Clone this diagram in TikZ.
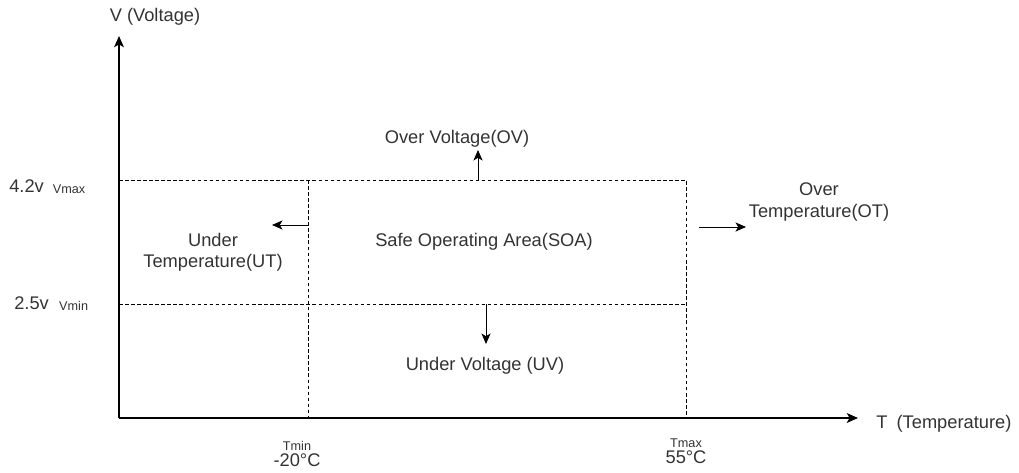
\documentclass[tikz,border=0pt]{standalone}
\usepackage{fontspec}
\setmainfont{Liberation Sans}
\usetikzlibrary{arrows.meta, positioning}

\begin{document}
\begin{tikzpicture}[
    x=0.025cm, y=-0.025cm,
    lbl/.style={text=black!80, font=\fontsize{13}{15}\selectfont, align=center, inner sep=0pt},
    tiny/.style={text=black!80, font=\fontsize{9}{10}\selectfont, inner sep=0pt},
    axis/.style={line width=0.9pt, -{Stealth[length=8pt, width=7pt, inset=2pt]}},
    limit/.style={dash pattern=on 2.5pt off 1.8pt, thin},
    arrow/.style={semithick, -{Stealth[length=7.5pt, width=6.5pt, inset=2pt]}}
]
\useasboundingbox (0,0) rectangle (1019,473);

% Coordinates
\coordinate (origin) at (119,418);
\coordinate (vtop) at (119,36);
\coordinate (tend) at (858,418);
\coordinate (vmaxL) at (119,180);
\coordinate (vmaxR) at (686,180);
\coordinate (vminL) at (119,304);
\coordinate (vminR) at (686,304);
\coordinate (tminT) at (308,180);
\coordinate (tminB) at (308,418);
\coordinate (tmaxB) at (686,418);

% Nodes
\node (vlabel) [lbl] at (155,17) {V (Voltage)};
\node (tlabel) [lbl, anchor=west] at (876,424) {T\enspace(Temperature)};
\node (vmax) [lbl, anchor=west] at (9,186) {4.2v};
\node (vmaxs) [tiny, right=6pt of vmax, yshift=-2pt] {Vmax};
\node (vmin) [lbl, anchor=west] at (14,303) {2.5v};
\node (vmins) [tiny, right=7pt of vmin, yshift=-2pt] {Vmin};
\node (tmin) [tiny] at (297,446) {Tmin};
\node (tminv) [lbl, below=2pt of tmin] {-20°C};
\node (tmax) [tiny] at (686,443) {Tmax};
\node (tmaxv) [lbl, below=2pt of tmax] {55°C};

\node (soa) [lbl] at (484,242) {Safe Operating Area(SOA)};
\node (ov) [lbl] at (457,139) {Over Voltage(OV)};
\node (uv) [lbl] at (485,366) {Under Voltage (UV)};
\node (ut) [lbl] at (213,252) {Under\\Temperature(UT)};
\node (ot) [lbl] at (819,202) {Over\\Temperature(OT)};

% Arrows
\draw [axis] (origin) -- (vtop);
\draw [axis] (origin) -- (tend);
\draw [limit] (vmaxL) -- (vmaxR) -- (tmaxB);
\draw [limit] (vminL) -- (vminR);
\draw [limit] (tminT) -- (tminB);

\draw [arrow] (478,180) -- (478,150);
\draw [arrow] (486,304) -- (486,344);
\draw [arrow] (308,225) -- (272,225);
\draw [arrow] (699,227) -- (746,227);

\end{tikzpicture}
\end{document}
